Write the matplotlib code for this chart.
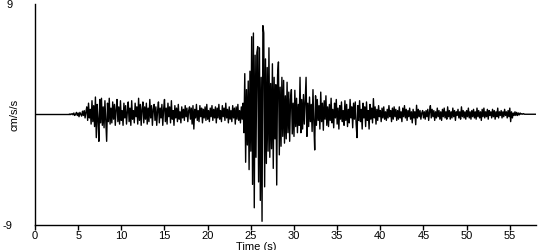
import matplotlib
matplotlib.use("Agg")
import matplotlib.pyplot as plt
import numpy as np

plt.rcParams['font.family'] = ['Liberation Sans', 'DejaVu Sans']

# quiet pre-event part (time s, accel cm/s/s)
quiet_t = [0.0, 4.0]
quiet_v = [0.0, 0.0]

# record samples starting at 4.0 s, every 0.1 s (one row per second)
rec_start = 4.0
rec_dt = 0.1
accel = [
    0.0, 0.0, 0.0, 0.05, -0.05, 0.1, -0.1, 0.0, 0.15, -0.1,          # 4
    0.1, -0.2, 0.15, 0.0, -0.15, 0.25, -0.1, 0.3, -0.3, 0.2,         # 5
    0.6, -0.5, 0.9, -0.3, 0.4, -0.8, 1.1, -0.6, 0.7, -1.0,           # 6
    1.4, -1.9, 0.8, -0.4, -2.2, 1.2, -0.7, 1.3, -0.9, 0.6,           # 7
    -1.1, 1.1, -0.5, -2.2, 0.9, -0.6, 1.3, -0.8, 0.5, -0.7,          # 8
    1.0, -0.4, 0.8, -0.9, 0.4, 1.2, -0.6, 0.6, -0.8, 1.1,            # 9
    -0.5, 0.3, -0.9, 0.9, -0.3, 0.7, -0.8, 0.2, 1.0, -0.6,           # 10
    0.5, -0.9, 1.1, -0.4, 0.3, -0.7, 0.9, -0.2, 0.6, -0.8,           # 11
    1.3, -0.5, 0.8, -0.9, 0.4, 1.0, -0.7, 0.6, -0.4, 0.9,            # 12
    -0.8, 0.5, -0.6, 1.2, -0.3, 0.7, -0.9, 0.4, 0.8, -0.5,           # 13
    0.6, -0.9, 0.3, 1.0, -0.7, 0.5, -0.3, 0.8, -0.9, 0.4,            # 14
    1.2, -0.6, 0.5, -0.8, 0.9, -0.2, 0.6, -0.7, 1.1, -0.4,           # 15
    0.3, -0.9, 0.7, -0.3, 0.5, -0.6, 0.8, -0.4, 0.2, -0.7,           # 16
    0.6, -0.3, 0.4, -0.5, 0.7, -0.2, 0.5, -0.6, 0.3, 0.6,            # 17
    -0.4, 0.5, -0.8, 0.7, -1.2, 0.4, -0.3, 0.8, -0.5, 0.3,           # 18
    -0.6, 0.7, -0.2, 0.5, -0.7, 0.4, -0.3, 0.6, -0.5, 0.8,           # 19
    -0.4, 0.3, -0.6, 0.5, -0.2, 0.7, -0.5, 0.4, -0.3, 0.6,           # 20
    -0.7, 0.5, -0.3, 0.8, -0.4, 0.3, -0.6, 0.7, -0.2, 0.5,           # 21
    -0.5, 0.9, -0.3, 0.4, -0.7, 0.6, -0.4, 0.3, -0.6, 0.7,           # 22
    -0.3, 0.5, -0.8, 0.6, -0.4, 0.8, -0.5, 0.3, -0.7, 0.6,           # 23
    -0.4, 0.9, -1.5, 3.3, -3.9, 2.0, -2.5, 2.7, -4.5, 3.5,           # 24
    -3.0, 6.3, -5.7, 6.6, -7.6, 4.8, -3.5, 5.0, 5.5, -5.5,           # 25
    5.4, -7.0, 3.0, -8.7, 7.2, 6.6, -5.9, 4.5, -4.0, 3.8,            # 26
    -3.0, 5.4, -3.5, 2.5, -2.8, 4.1, -4.4, 3.0, -2.0, 2.4,           # 27
    -5.75, 3.2, 4.25, -3.3, 2.2, -2.6, 3.0, -1.8, 2.75, -2.35,       # 28
    1.5, -2.0, 2.6, -1.5, 1.8, -2.2, 1.2, 2.0, -1.6, 0.9,            # 29
    -1.8, 1.95, -1.0, 1.3, -1.5, 0.8, -0.9, 3.0, -1.5, 1.2,          # 30
    -1.2, 1.6, -0.8, 1.0, 3.0, -1.8, 0.9, -1.0, 1.4, -0.6,           # 31
    0.8, -1.4, 2.0, -0.7, -2.9, 1.5, -0.9, 1.2, -0.5, 0.7,           # 32
    -1.2, 1.8, -0.6, 0.9, -1.3, 1.1, -0.4, 1.5, -0.9, 0.6,           # 33
    -1.0, 0.8, -0.5, 1.3, -0.7, 0.4, -1.1, 0.9, -0.3, 1.2,           # 34
    -0.8, 0.5, -1.2, 0.7, -0.4, 1.0, -0.6, 0.3, -0.9, 1.1,           # 35
    -0.5, 0.8, -1.0, 0.4, -0.7, 1.2, -0.3, 0.6, -1.1, 0.9,           # 36
    -0.4, 1.0, -0.8, -1.9, 0.7, -0.5, 1.1, -0.6, 0.4, -1.2,          # 37
    0.9, -0.3, 0.6, -1.0, 1.0, -0.5, 0.3, -1.2, 0.8, -0.4,           # 38
    0.5, -0.7, 1.27, -0.3, 0.6, -0.8, 0.4, -0.5, 0.7, -0.2,          # 39
    0.3, -0.6, 0.5, -0.3, 0.6, -0.4, 0.2, -0.5, 0.4, -0.3,           # 40
    0.7, -0.2, 0.3, -0.6, 0.5, -0.4, 0.6, -0.2, 0.4, -0.5,           # 41
    0.3, -0.4, 0.6, -0.3, 0.2, -0.6, 0.5, -0.2, 0.7, -0.3,           # 42
    0.4, -0.5, 0.3, -0.2, 0.5, -0.4, 0.2, -0.7, 0.4, -0.3,           # 43
    0.2, -0.85, 0.73, -0.3, 0.4, -0.2, 0.3, -0.4, 0.1, 0.3,          # 44
    -0.3, 0.2, -0.4, 0.3, -0.2, 0.4, -0.5, 0.2, 0.7, -0.3,           # 45
    0.4, -0.2, 0.3, -0.5, 0.2, -0.3, 0.5, -0.2, 0.3, -0.4,           # 46
    0.2, -0.5, 0.4, -0.2, 0.5, -0.3, 0.2, -0.4, 0.6, -0.2,           # 47
    0.3, -0.4, 0.2, -0.3, 0.5, -0.2, 0.3, -0.5, 0.2, -0.1,           # 48
    0.4, -0.3, 0.2, -0.4, 0.6, -0.2, 0.3, -0.3, 0.2, -0.4,           # 49
    0.3, -0.2, 0.5, -0.3, 0.2, -0.4, 0.3, -0.2, 0.4, -0.3,           # 50
    0.2, -0.4, 0.5, -0.2, 0.3, -0.3, 0.2, -0.5, 0.4, -0.2,           # 51
    0.5, -0.3, 0.2, -0.2, 0.4, -0.4, 0.3, -0.1, 0.2, -0.3,           # 52
    0.4, -0.2, 0.3, -0.4, 0.2, -0.2, 0.5, -0.3, 0.2, -0.1,           # 53
    0.3, -0.3, 0.2, -0.2, 0.4, -0.1, 0.2, -0.3, 0.3, -0.2,           # 54
    0.5, -0.6, 0.2, -0.3, 0.1, -0.1, 0.2, -0.1, 0.15, -0.1,          # 55
    0.1, -0.05, 0.1, 0.0, 0.05, 0.0, 0.05, 0.0, 0.0, 0.0,            # 56
    0.0, 0.0, 0.0, 0.0, 0.0, 0.0, 0.0, 0.0, 0.0, 0.0, 0.0,           # 57-58
]

x_ticks = [0, 5, 10, 15, 20, 25, 30, 35, 40, 45, 50, 55]
y_ticks = [-9, 9]

rec_t = rec_start + rec_dt * np.arange(len(accel))

fig = plt.figure(figsize=(5.5, 2.5), dpi=100)
ax = fig.add_axes([35/550, 1 - 225/250, (535.7 - 35)/550, (225 - 3.5)/250])

ax.plot(quiet_t, quiet_v, color='black', lw=1.0)
ax.plot(rec_t, accel, color='black', lw=1.0)

ax.set_xlim(0, 58)
ax.set_ylim(-9, 9)
ax.set_xticks(x_ticks)
ax.set_xticklabels([str(v) for v in x_ticks])
ax.set_yticks(y_ticks)
ax.set_yticklabels([str(v) for v in y_ticks])
ax.tick_params(axis='x', length=3.5, width=1, direction='out', labelsize=8, pad=1.0, colors='black')
ax.tick_params(axis='y', length=0, labelsize=8, pad=16, colors='black')

for s in ['top', 'right']:
    ax.spines[s].set_visible(False)
for s in ['left', 'bottom']:
    ax.spines[s].set_linewidth(1.0)
    ax.spines[s].set_color('black')

fig.text(14/550, 1 - 115/250, 'cm/s/s', rotation=90, ha='center', va='center', fontsize=8)
fig.text(256/550, 1 - 246.5/250, 'Time (s)', ha='center', va='center', fontsize=8)

fig.savefig('out.png', dpi=100)
